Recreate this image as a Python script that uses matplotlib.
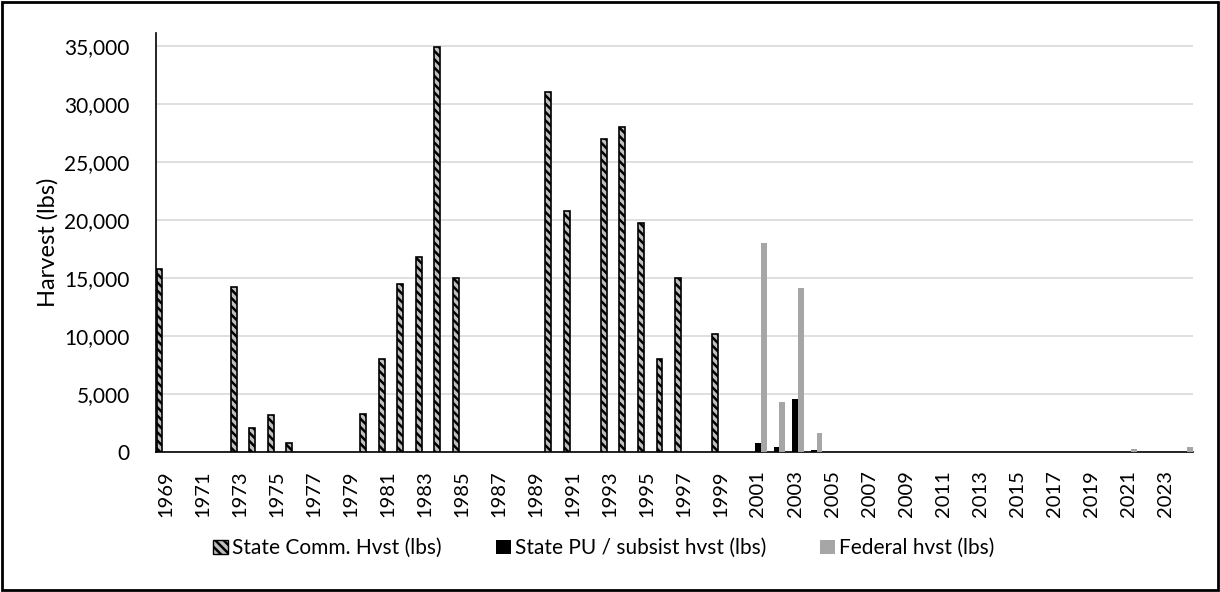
import numpy as np
import matplotlib
matplotlib.use("Agg")
from matplotlib import pyplot as plt
from matplotlib.patches import Rectangle, Patch
from matplotlib.ticker import FuncFormatter

plt.rcParams['font.family'] = ['Lato', 'DejaVu Sans']
plt.rcParams['hatch.linewidth'] = 1.8

years = list(range(1969, 2025))

# State commercial harvest (lbs)
comm_years = [1969, 1973, 1974, 1975, 1976, 1980, 1981, 1982, 1983, 1984, 1985,
              1990, 1991, 1993, 1994, 1995, 1996, 1997, 1999]
comm_vals = [15800, 14200, 2100, 3150, 750, 3250, 8050, 14450, 16800, 34900, 15000,
             31000, 20800, 27000, 28000, 19750, 8050, 15000, 10200]
# State PU / subsistence harvest (lbs)
pu_years = [2001, 2002, 2003, 2004]
pu_vals = [750, 400, 4600, 200]
# Federal harvest (lbs)
fed_years = [2001, 2002, 2003, 2004, 2021, 2024]
fed_vals = [18000, 4300, 14100, 1600, 300, 400]

fig = plt.figure(figsize=(12.2, 5.92), dpi=100)
ax = fig.add_axes([0.128, 0.2365, 0.85, 0.7075])

w = 0.32
pos = lambda yrs: np.array([years.index(y) for y in yrs])  # category index of each year
ax.bar(pos(comm_years) - w, comm_vals, w, color='#BFBFBF', edgecolor='black',
       hatch='\\\\\\\\', linewidth=1.2, zorder=3)
ax.bar(pos(pu_years), pu_vals, w, color='black', zorder=3)
ax.bar(pos(fed_years) + w, fed_vals, w, color='#A6A6A6', zorder=3)

ax.set_xlim(-0.5, len(years) - 0.5)
ax.set_ylim(0, 36100)
ax.set_yticks(np.arange(0, 35001, 5000))
ax.yaxis.set_major_formatter(FuncFormatter(lambda v, p: f"{int(v):,}"))
ax.yaxis.grid(True, color='#D9D9D9', linewidth=1.2, zorder=0)
ax.set_axisbelow(True)

x = np.arange(len(years))
ax.set_xticks(x[::2])
ax.set_xticklabels([str(y) for y in years[::2]], rotation=90)
ax.tick_params(axis='x', length=0, labelsize=14.5, pad=13)
ax.tick_params(axis='y', length=0, labelsize=15, pad=19)

for s in ['top', 'right']:
    ax.spines[s].set_visible(False)
ax.spines['left'].set_linewidth(1.2)
ax.spines['bottom'].set_linewidth(1.2)

ax.set_ylabel('Harvest (lbs)', fontsize=17, labelpad=4)

handles = [Patch(facecolor='#BFBFBF', edgecolor='black', hatch='\\\\\\\\'),
           Patch(facecolor='black'),
           Patch(facecolor='#A6A6A6')]
labels = ['State Comm. Hvst (lbs)', 'State PU / subsist hvst (lbs)', 'Federal hvst (lbs)']
fig.legend(handles, labels, loc='center', bbox_to_anchor=(0.495, 0.074), ncol=3,
           frameon=False, fontsize=15, handlelength=0.7, handleheight=0.7,
           handletextpad=0.2, columnspacing=2.6)

fig.patches.append(Rectangle((0.002, 0.003), 0.996, 0.994, transform=fig.transFigure,
                             fill=False, edgecolor='black', linewidth=2))

fig.savefig('out.png', dpi=100)
